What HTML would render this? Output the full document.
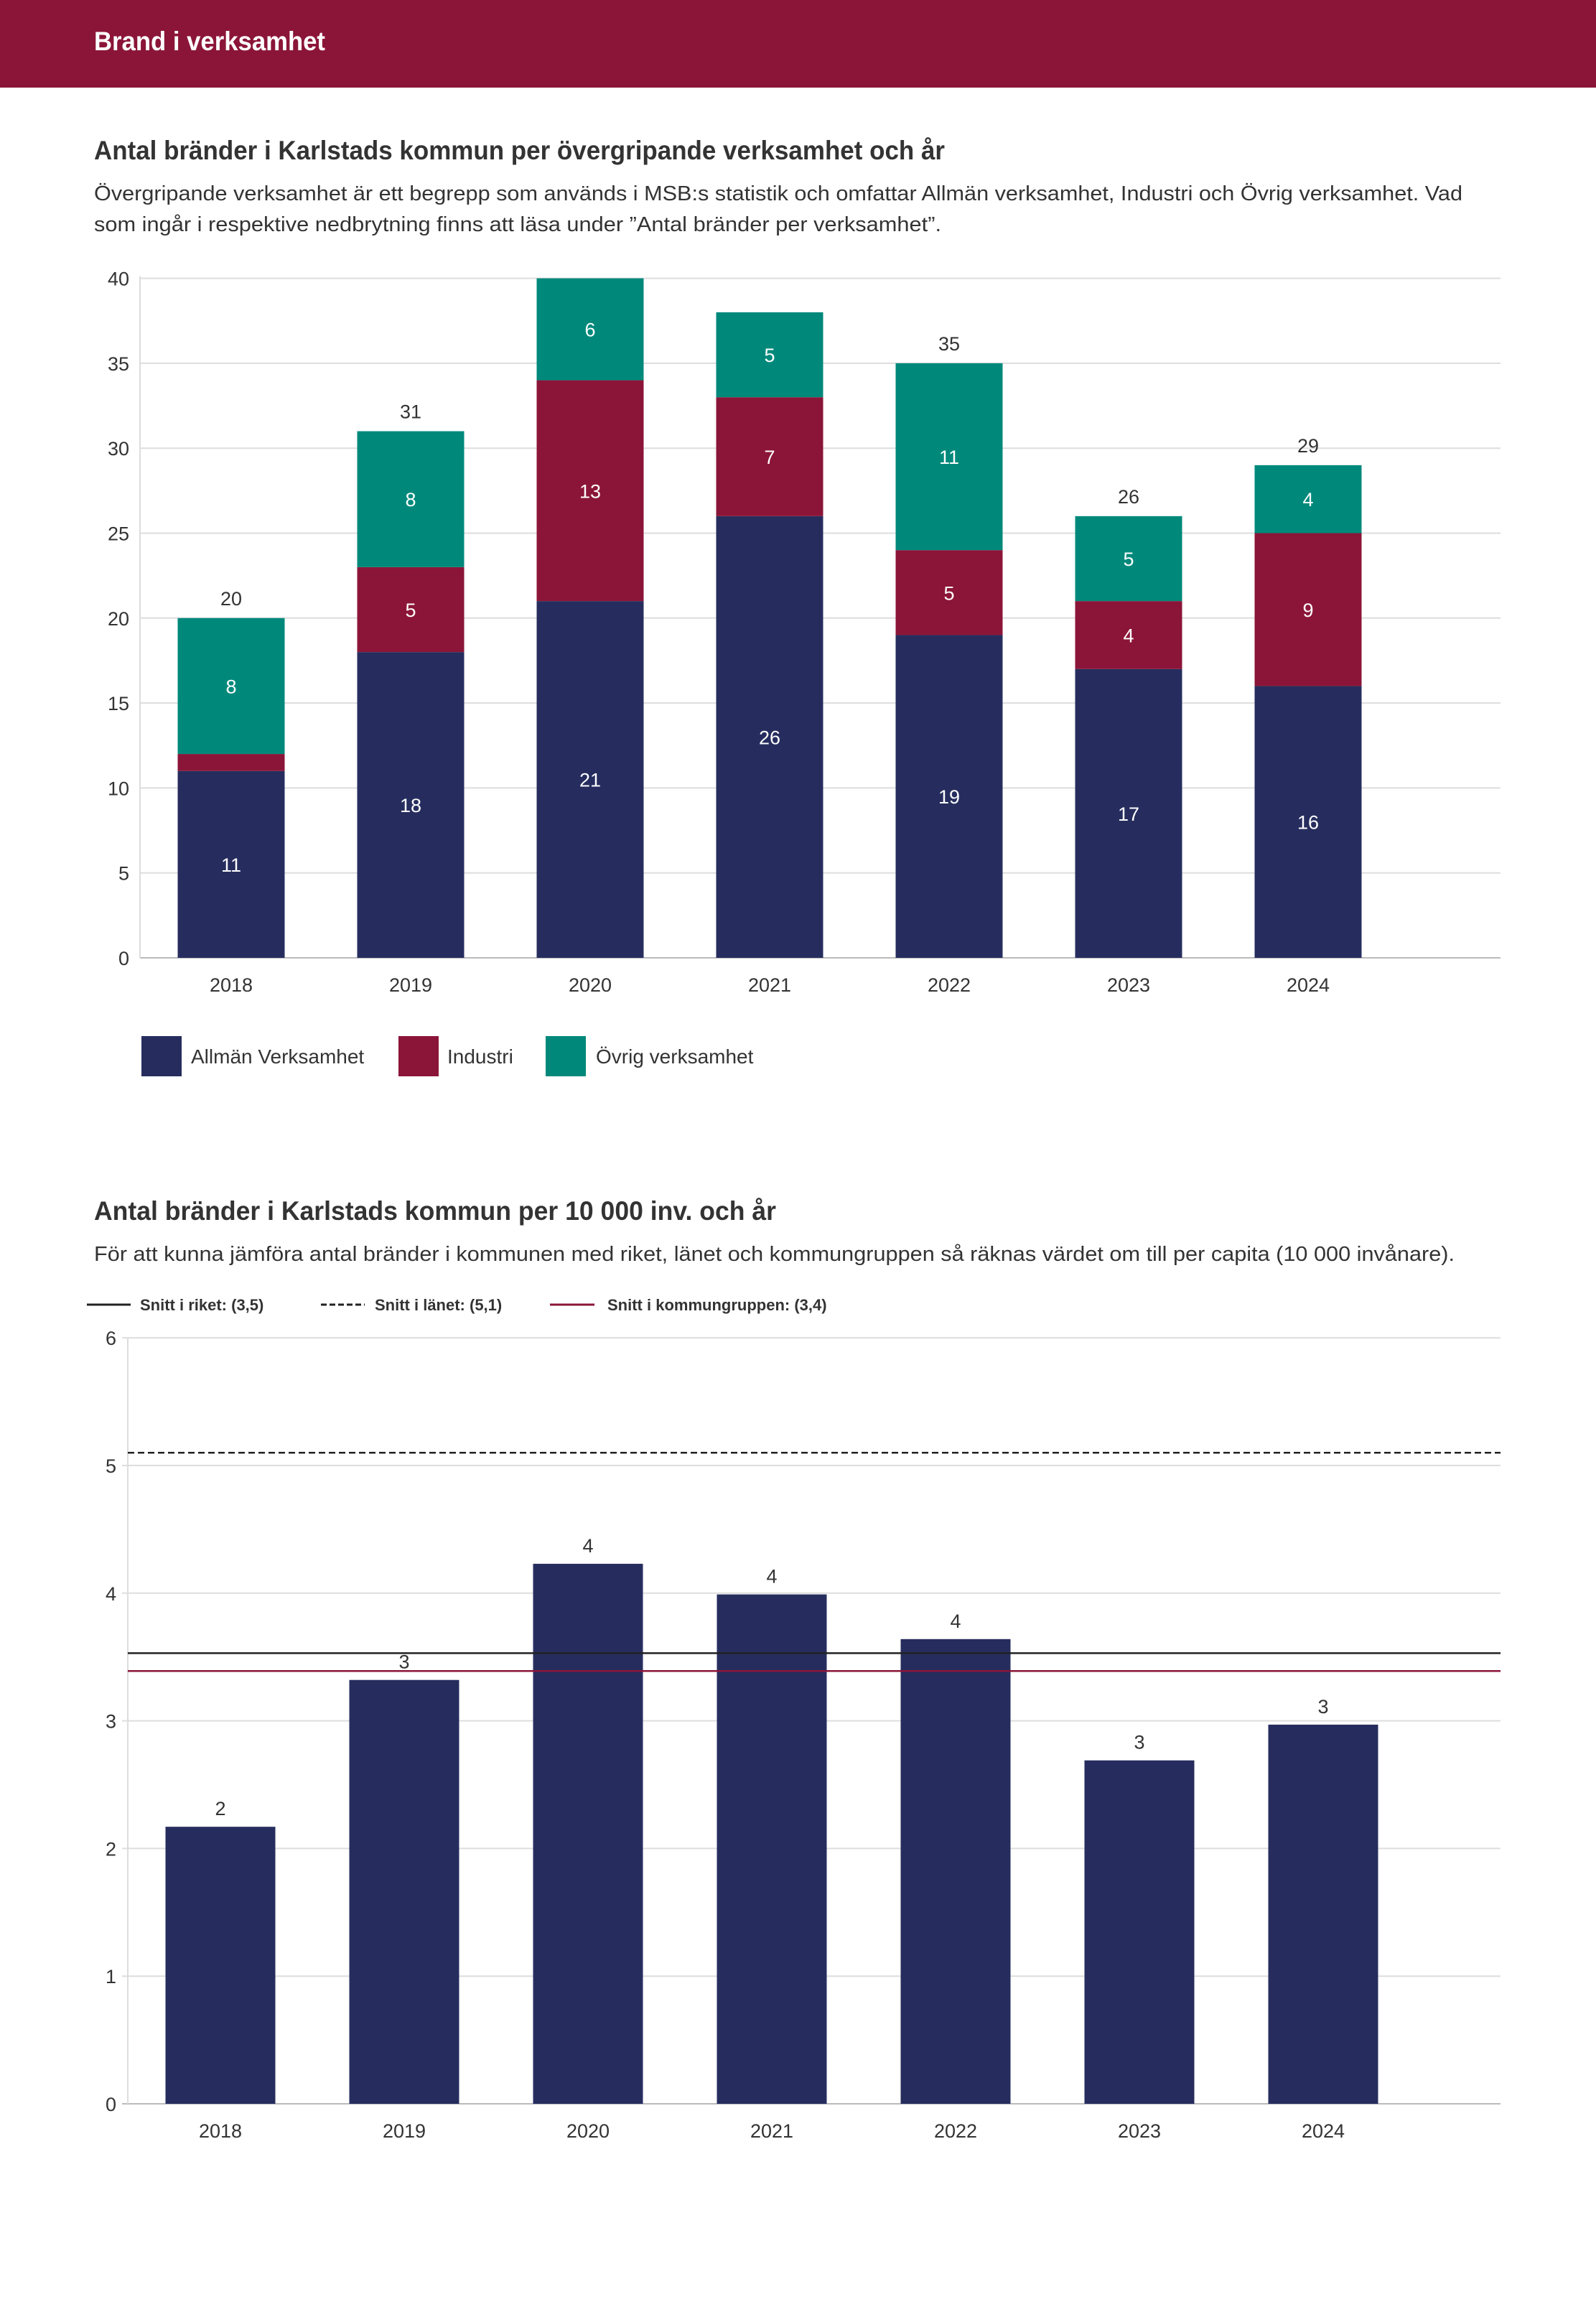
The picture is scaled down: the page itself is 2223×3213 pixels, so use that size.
<!DOCTYPE html>
<html><head><meta charset="utf-8"><style>
html,body{margin:0;padding:0;background:#fff}
svg{display:block;font-family:"Liberation Sans",sans-serif}
</style></head><body>
<svg id="s" width="2223" height="3213" viewBox="0 0 2223 3213" xmlns="http://www.w3.org/2000/svg">
<rect x="0" y="0" width="2223" height="122" fill="#8B1538"/>
<text x="131" y="70" font-size="37" font-weight="bold" fill="#fff" textLength="322" lengthAdjust="spacingAndGlyphs">Brand i verksamhet</text>
<text x="131" y="222" font-size="37" font-weight="bold" fill="#333" textLength="1185" lengthAdjust="spacingAndGlyphs">Antal bränder i Karlstads kommun per övergripande verksamhet och år</text>
<text x="131" y="279" font-size="29" fill="#333" textLength="1906" lengthAdjust="spacingAndGlyphs">Övergripande verksamhet är ett begrepp som används i MSB:s statistik och omfattar Allmän verksamhet, Industri och Övrig verksamhet. Vad</text>
<text x="131" y="322" font-size="29" fill="#333" textLength="1180" lengthAdjust="spacingAndGlyphs">som ingår i respektive nedbrytning finns att läsa under ”Antal bränder per verksamhet”.</text>
<g id="c1"></g>
<g>
<rect x="197" y="1443" width="56" height="56" fill="#262D5E"/>
<text x="266" y="1481" font-size="28" fill="#333">Allmän Verksamhet</text>
<rect x="555" y="1443" width="56" height="56" fill="#8B1538"/>
<text x="623" y="1481" font-size="28" fill="#333">Industri</text>
<rect x="760" y="1443" width="56" height="56" fill="#00897B"/>
<text x="830" y="1481" font-size="28" fill="#333">Övrig verksamhet</text>
</g>
<text x="131" y="1699" font-size="37" font-weight="bold" fill="#333" textLength="950" lengthAdjust="spacingAndGlyphs">Antal bränder i Karlstads kommun per 10 000 inv. och år</text>
<text x="131" y="1756" font-size="29" fill="#333" textLength="1895" lengthAdjust="spacingAndGlyphs">För att kunna jämföra antal bränder i kommunen med riket, länet och kommungruppen så räknas värdet om till per capita (10 000 invånare).</text>
<g>
<line x1="121" y1="1817" x2="182" y2="1817" stroke="#222" stroke-width="3"/>
<text x="195" y="1825" font-size="22" font-weight="bold" fill="#333">Snitt i riket: (3,5)</text>
<line x1="447" y1="1817" x2="508" y2="1817" stroke="#222" stroke-width="3" stroke-dasharray="8,4"/>
<text x="522" y="1825" font-size="22" font-weight="bold" fill="#333">Snitt i länet: (5,1)</text>
<line x1="766" y1="1817" x2="828" y2="1817" stroke="#8B1538" stroke-width="3"/>
<text x="846" y="1825" font-size="22" font-weight="bold" fill="#333">Snitt i kommungruppen: (3,4)</text>
</g>
<g id="c2"></g>
</svg>
<script>
const years = ["2018","2019","2020","2021","2022","2023","2024"];
const allman = [11,18,21,26,19,17,16];
const industri = [1,5,13,7,5,4,9];
const ovrig = [8,8,6,5,11,5,4];
const totalLabels = ["20","31","","","35","26","29"];
const ticks1 = [0,5,10,15,20,25,30,35,40];
const perCapita = [2.17,3.32,4.23,3.99,3.64,2.69,2.97];
const perCapitaLabels = ["2","3","4","4","4","3","3"];
const ticks2 = [0,1,2,3,4,5,6];
const snittRiket = 3.53;
const snittLanet = 5.1;
const snittKommungrupp = 3.39;

const NS="http://www.w3.org/2000/svg";
function mk(parent,tag,attrs,txt){const e=document.createElementNS(NS,tag);for(const k in attrs)e.setAttribute(k,attrs[k]);if(txt!==undefined)e.textContent=txt;parent.appendChild(e);return e;}

// Chart 1
const c1=document.getElementById('c1');
const y1=v=>1334-v*23.66;
const x1=i=>322+i*250;
const bw1=149;
ticks1.forEach(t=>{
  const l=mk(c1,'line',{x1:195,x2:2090,y1:y1(t),y2:y1(t),stroke:t===0?'#bbb':'#ddd','stroke-width':2});
  
  
  const tx=mk(c1,'text',{x:180,y:y1(t)+10,'font-size':27,fill:'#333','text-anchor':'end'},String(t));
  
  
});
const ax=mk(c1,'line',{x1:195,x2:195,y1:y1(40)-3,y2:y1(0),stroke:'#ddd','stroke-width':2});


const series=[[allman,'#262D5E','allman'],[industri,'#8B1538','industri'],[ovrig,'#00897B','ovrig']];
years.forEach((yr,i)=>{
  let base=0;
  series.forEach(([arr,col,nm])=>{
    const v=arr[i];
    const r=mk(c1,'rect',{x:x1(i)-bw1/2,y:y1(base+v),width:bw1,height:y1(base)-y1(base+v),fill:col});
    
    
    if(v>=2){
      const t=mk(c1,'text',{x:x1(i),y:y1(base+v/2)+10,'font-size':27,fill:'#fff','text-anchor':'middle'},String(v));
      
      
    }
    base+=v;
  });
  if(totalLabels[i]){
    const t=mk(c1,'text',{x:x1(i),y:y1(base)-18,'font-size':27,fill:'#333','text-anchor':'middle'},totalLabels[i]);
    
    
  }
  const xl=mk(c1,'text',{x:x1(i),y:1381,'font-size':27,fill:'#333','text-anchor':'middle'},yr);
  
  
});

// Chart 2
const c2=document.getElementById('c2');
const y2=v=>2930-v*177.8;
const x2=i=>307+i*256;
const bw2=153;
ticks2.forEach(t=>{
  const l=mk(c2,'line',{x1:170,x2:2090,y1:y2(t),y2:y2(t),stroke:t===0?'#bbb':'#ddd','stroke-width':2});
  
  
  const tx=mk(c2,'text',{x:162,y:y2(t)+10,'font-size':27,fill:'#333','text-anchor':'end'},String(t));
  
  
});
const ax2=mk(c2,'line',{x1:178,x2:178,y1:y2(6),y2:y2(0),stroke:'#ddd','stroke-width':2});


years.forEach((yr,i)=>{
  const v=perCapita[i];
  const r=mk(c2,'rect',{x:x2(i)-bw2/2,y:y2(v),width:bw2,height:y2(0)-y2(v),fill:'#262D5E'});
  
  
  const t=mk(c2,'text',{x:x2(i),y:y2(v)-16,'font-size':27,fill:'#333','text-anchor':'middle'},perCapitaLabels[i]);
  
  
  const xl=mk(c2,'text',{x:x2(i),y:2977,'font-size':27,fill:'#333','text-anchor':'middle'},yr);
  
  
});
const lr=mk(c2,'line',{x1:178,x2:2090,y1:y2(snittRiket),y2:y2(snittRiket),stroke:'#222','stroke-width':2.5});


const ll=mk(c2,'line',{x1:178,x2:2090,y1:y2(snittLanet),y2:y2(snittLanet),stroke:'#222','stroke-width':2.5,'stroke-dasharray':'9,5'});


const lk=mk(c2,'line',{x1:178,x2:2090,y1:y2(snittKommungrupp),y2:y2(snittKommungrupp),stroke:'#8B1538','stroke-width':2.5});


</script>
</body></html>
